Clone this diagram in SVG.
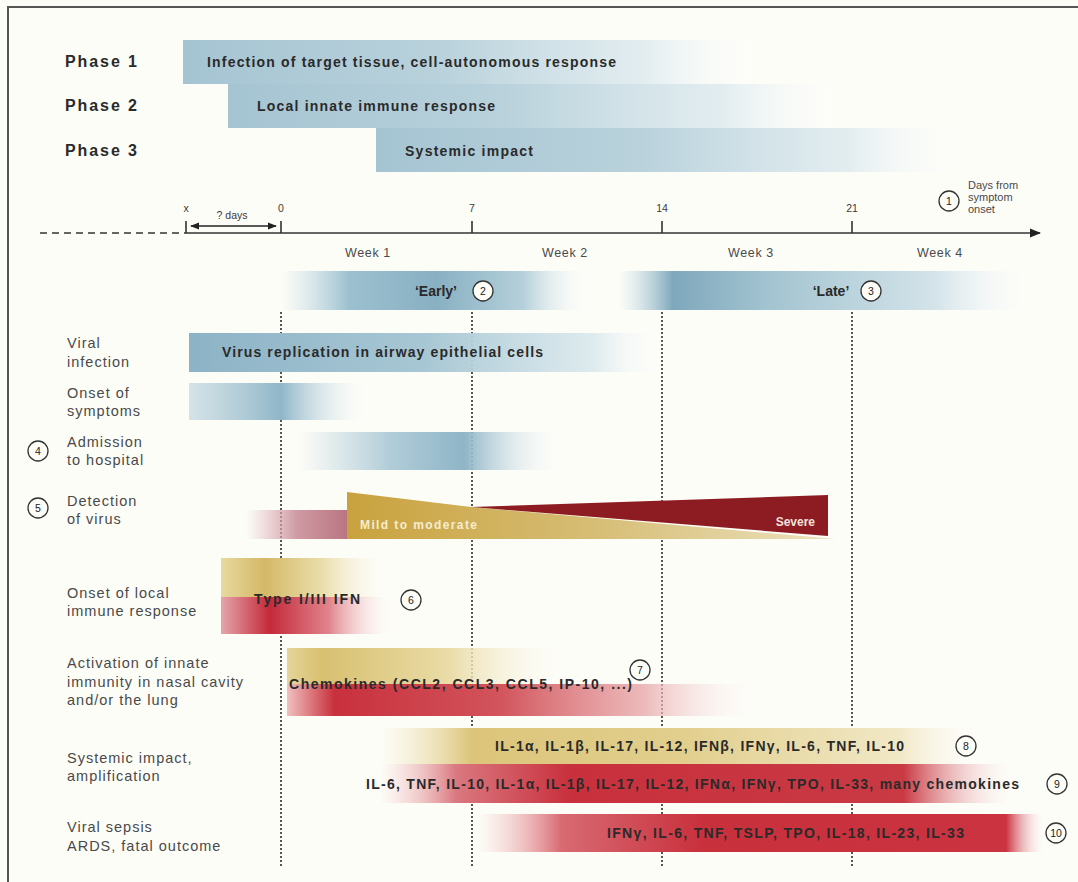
<svg xmlns="http://www.w3.org/2000/svg" width="1078" height="882" viewBox="0 0 1078 882">
<defs>
<style>
text{font-family:"Liberation Sans",Arial,sans-serif;}
.ph{font-size:16px;font-weight:bold;fill:#2a2a2a;}
.bt{font-size:14px;font-weight:bold;fill:#2a2a2a;}
.lb{font-size:14.5px;fill:#4a4a4a;letter-spacing:1px;}
.wk{font-size:12.5px;fill:#4a4a4a;letter-spacing:0.6px;}
.tk{font-size:10.5px;fill:#3a3a3a;}
.sm{font-size:11px;fill:#4a4a4a;}
.cn{font-size:10.5px;fill:#222;text-anchor:middle;}
.cc{fill:#fdfdf8;stroke:#333;stroke-width:1.3;}
.dot{stroke:#555;stroke-width:2;stroke-dasharray:2 2;fill:none;}
.axis{stroke:#333;stroke-width:1.6;fill:none;}
</style>
<linearGradient id="gPh"><stop offset="0" stop-color="#a5c4d2"/><stop offset="0.45" stop-color="#b9d2dc"/><stop offset="0.8" stop-color="#dce9ee" stop-opacity="0.8"/><stop offset="1" stop-color="#ffffff" stop-opacity="0"/></linearGradient>
<linearGradient id="gVir"><stop offset="0" stop-color="#8cb3c6"/><stop offset="0.5" stop-color="#a8c7d4"/><stop offset="0.85" stop-color="#d6e6ec" stop-opacity="0.8"/><stop offset="1" stop-color="#ffffff" stop-opacity="0"/></linearGradient>
<linearGradient id="gOns"><stop offset="0" stop-color="#b9d1dc" stop-opacity="0.6"/><stop offset="0.5" stop-color="#8fb6c8"/><stop offset="1" stop-color="#ffffff" stop-opacity="0"/></linearGradient>
<linearGradient id="gAdm"><stop offset="0" stop-color="#b8d0db" stop-opacity="0"/><stop offset="0.35" stop-color="#b0ccd8"/><stop offset="0.62" stop-color="#8fb5c7"/><stop offset="1" stop-color="#ffffff" stop-opacity="0"/></linearGradient>
<linearGradient id="gEarly"><stop offset="0" stop-color="#bcd4de" stop-opacity="0"/><stop offset="0.22" stop-color="#9cc0cf"/><stop offset="0.5" stop-color="#88b0c3"/><stop offset="0.78" stop-color="#b5d0da"/><stop offset="1" stop-color="#ffffff" stop-opacity="0"/></linearGradient>
<linearGradient id="gLate"><stop offset="0" stop-color="#bcd4de" stop-opacity="0"/><stop offset="0.13" stop-color="#7ea8bc"/><stop offset="0.35" stop-color="#a2c3d0"/><stop offset="0.75" stop-color="#d3e3e9"/><stop offset="1" stop-color="#ffffff" stop-opacity="0"/></linearGradient>
<linearGradient id="gMauve"><stop offset="0" stop-color="#d9a9b1" stop-opacity="0"/><stop offset="0.5" stop-color="#cf9aa3"/><stop offset="1" stop-color="#b97582"/></linearGradient>
<linearGradient id="gGold"><stop offset="0" stop-color="#c9a23e"/><stop offset="0.5" stop-color="#d6bd74"/><stop offset="1" stop-color="#ece2bf"/></linearGradient>
<linearGradient id="gIfnG"><stop offset="0" stop-color="#e8d9a0"/><stop offset="0.25" stop-color="#d4b866"/><stop offset="0.6" stop-color="#ece0b0"/><stop offset="1" stop-color="#ffffff" stop-opacity="0"/></linearGradient>
<linearGradient id="gIfnR"><stop offset="0" stop-color="#e4a6ab"/><stop offset="0.28" stop-color="#c42a3a"/><stop offset="0.62" stop-color="#e0848c"/><stop offset="1" stop-color="#ffffff" stop-opacity="0"/></linearGradient>
<linearGradient id="gChG"><stop offset="0" stop-color="#e6d59a"/><stop offset="0.12" stop-color="#d8c070"/><stop offset="0.55" stop-color="#e9dba5"/><stop offset="1" stop-color="#ffffff" stop-opacity="0"/></linearGradient>
<linearGradient id="gChR"><stop offset="0" stop-color="#f0c0c0"/><stop offset="0.1" stop-color="#c8303c"/><stop offset="0.45" stop-color="#d2545c"/><stop offset="0.75" stop-color="#e8a8aa" stop-opacity="0.8"/><stop offset="1" stop-color="#ffffff" stop-opacity="0"/></linearGradient>
<linearGradient id="gR8"><stop offset="0" stop-color="#efe3b8" stop-opacity="0"/><stop offset="0.15" stop-color="#dcc57a"/><stop offset="0.5" stop-color="#e2cf8e"/><stop offset="0.85" stop-color="#f1e8c6"/><stop offset="1" stop-color="#ffffff" stop-opacity="0"/></linearGradient>
<linearGradient id="gR9"><stop offset="0" stop-color="#f0c0c0" stop-opacity="0"/><stop offset="0.12" stop-color="#da7880"/><stop offset="0.3" stop-color="#c8303c"/><stop offset="0.82" stop-color="#c93a44"/><stop offset="1" stop-color="#ffffff" stop-opacity="0"/></linearGradient>
<linearGradient id="gR10"><stop offset="0" stop-color="#f0c0c0" stop-opacity="0"/><stop offset="0.15" stop-color="#d86a72"/><stop offset="0.4" stop-color="#c8303c"/><stop offset="0.93" stop-color="#cc3340"/><stop offset="1" stop-color="#ffffff" stop-opacity="0"/></linearGradient>
<marker id="ah" viewBox="0 0 10 10" refX="9" refY="5" markerWidth="7" markerHeight="7" orient="auto-start-reverse"><path d="M0,1 L10,5 L0,9 Z" fill="#222"/></marker>
</defs>
<rect x="0" y="0" width="1078" height="882" fill="#fdfdf8"/>
<path d="M8,882 V7 H1078" fill="none" stroke="#555" stroke-width="2"/>

<g id="connectors">
<line class="dot" x1="281" y1="312" x2="281" y2="866"/>
<line class="dot" x1="472" y1="312" x2="472" y2="866"/>
<line class="dot" x1="662" y1="312" x2="662" y2="866"/>
<line class="dot" x1="852" y1="312" x2="852" y2="866"/>
<line x1="40" y1="233" x2="186" y2="233" stroke="#333" stroke-width="1.6" stroke-dasharray="7 5"/>
<line class="axis" x1="186" y1="233" x2="1040" y2="233" marker-end="url(#ah)"/>
<path class="axis" d="M186,221V233 M281,221V233 M472,221V233 M662,221V233 M852,221V233"/>
<line x1="191" y1="226" x2="276" y2="226" stroke="#222" stroke-width="1.3" marker-start="url(#ah)" marker-end="url(#ah)"/>
</g>

<g id="axis-labels">
<text class="tk" x="186" y="212" text-anchor="middle">x</text>
<text class="tk" x="232" y="219" text-anchor="middle">? days</text>
<text class="tk" x="281" y="212" text-anchor="middle">0</text>
<text class="tk" x="472" y="212" text-anchor="middle">7</text>
<text class="tk" x="662" y="212" text-anchor="middle">14</text>
<text class="tk" x="852" y="212" text-anchor="middle">21</text>
<text class="wk" x="368" y="257" text-anchor="middle">Week 1</text>
<text class="wk" x="565" y="257" text-anchor="middle">Week 2</text>
<text class="wk" x="751" y="257" text-anchor="middle">Week 3</text>
<text class="wk" x="940" y="257" text-anchor="middle">Week 4</text>
</g>
<g id="n1">
<circle class="cc" cx="949" cy="201" r="10"/><text class="cn" x="949" y="205">1</text>
<text class="sm" x="968" y="189">Days from</text>
<text class="sm" x="968" y="201">symptom</text>
<text class="sm" x="968" y="213">onset</text>
</g>

<g id="phase1">
<text class="ph" x="65" y="67" textLength="72">Phase 1</text>
<rect x="183" y="40" width="580" height="44" fill="url(#gPh)"/>
<text class="bt" x="207" y="67" textLength="409">Infection of target tissue, cell-autonomous response</text>
</g>
<g id="phase2">
<text class="ph" x="65" y="111" textLength="72">Phase 2</text>
<rect x="228" y="84" width="620" height="44" fill="url(#gPh)"/>
<text class="bt" x="257" y="111" textLength="238">Local innate immune response</text>
</g>
<g id="phase3">
<text class="ph" x="65" y="156" textLength="72">Phase 3</text>
<rect x="376" y="128" width="592" height="44" fill="url(#gPh)"/>
<text class="bt" x="405" y="156" textLength="128">Systemic impact</text>
</g>

<g id="early">
<rect x="281" y="271" width="311" height="39" fill="url(#gEarly)"/>
<text class="bt" x="436" y="296" text-anchor="middle">‘Early’</text>
<circle class="cc" cx="483" cy="291" r="10"/><text class="cn" x="483" y="295">2</text>
</g>
<g id="late">
<rect x="618" y="271" width="422" height="39" fill="url(#gLate)"/>
<text class="bt" x="831" y="296" text-anchor="middle">‘Late’</text>
<circle class="cc" cx="871" cy="291" r="10"/><text class="cn" x="871" y="295">3</text>
</g>

<g id="viral-infection">
<text class="lb" x="67" y="348">Viral</text>
<text class="lb" x="67" y="367">infection</text>
<rect x="189" y="333" width="476" height="39" fill="url(#gVir)"/>
<text class="bt" x="222" y="357" textLength="321">Virus replication in airway epithelial cells</text>
</g>
<g id="onset-symptoms">
<text class="lb" x="67" y="398">Onset of</text>
<text class="lb" x="67" y="416">symptoms</text>
<rect x="189" y="383" width="184" height="37" fill="url(#gOns)"/>
</g>
<g id="admission">
<circle class="cc" cx="38" cy="451" r="10"/><text class="cn" x="38" y="455">4</text>
<text class="lb" x="67" y="447">Admission</text>
<text class="lb" x="67" y="465">to hospital</text>
<rect x="298" y="432" width="268" height="38" fill="url(#gAdm)"/>
</g>
<g id="detection">
<circle class="cc" cx="38" cy="508" r="10"/><text class="cn" x="38" y="512">5</text>
<text class="lb" x="67" y="506">Detection</text>
<text class="lb" x="67" y="524">of virus</text>
<rect x="246" y="510" width="102" height="29" fill="url(#gMauve)"/>
<polygon points="347,492 471,507 836,539 347,539" fill="url(#gGold)"/>
<polygon points="471,507 828,495 828,536" fill="#8c1c21"/>
<text x="360" y="529" font-size="12" font-weight="bold" fill="#f6ecd0" textLength="117">Mild to moderate</text>
<text x="815" y="526" font-size="12" font-weight="bold" fill="#f3e0dc" text-anchor="end">Severe</text>
</g>
<g id="onset-local">
<text class="lb" x="67" y="598">Onset of local</text>
<text class="lb" x="67" y="616">immune response</text>
<rect x="221" y="558" width="174" height="40" fill="url(#gIfnG)"/>
<rect x="221" y="597" width="174" height="37" fill="url(#gIfnR)"/>
<text class="bt" x="254" y="604" textLength="106">Type I/III IFN</text>
<circle class="cc" cx="411" cy="600" r="10"/><text class="cn" x="411" y="604">6</text>
</g>
<g id="activation">
<text class="lb" x="67" y="668">Activation of innate</text>
<text class="lb" x="67" y="687">immunity in nasal cavity</text>
<text class="lb" x="67" y="705">and/or the lung</text>
<rect x="287" y="648" width="290" height="37" fill="url(#gChG)"/>
<rect x="287" y="684" width="475" height="32" fill="url(#gChR)"/>
<text class="bt" x="289" y="689" textLength="343">Chemokines (CCL2, CCL3, CCL5, IP-10, ...)</text>
<circle class="cc" cx="640" cy="670" r="10"/><text class="cn" x="640" y="674">7</text>
</g>
<g id="systemic">
<text class="lb" x="67" y="763">Systemic impact,</text>
<text class="lb" x="67" y="781">amplification</text>
<rect x="379" y="728" width="613" height="36" fill="url(#gR8)"/>
<text class="bt" x="495" y="751" textLength="409">IL-1α, IL-1β, IL-17, IL-12, IFNβ, IFNγ, IL-6, TNF, IL-10</text>
<circle class="cc" cx="966" cy="746" r="10"/><text class="cn" x="966" y="750">8</text>
<rect x="379" y="764" width="640" height="39" fill="url(#gR9)"/>
<text class="bt" x="366" y="789" textLength="653">IL-6, TNF, IL-10, IL-1α, IL-1β, IL-17, IL-12, IFNα, IFNγ, TPO, IL-33, many chemokines</text>
<circle class="cc" cx="1057" cy="784" r="10"/><text class="cn" x="1057" y="788">9</text>
</g>
<g id="sepsis">
<text class="lb" x="67" y="832">Viral sepsis</text>
<text class="lb" x="67" y="851">ARDS, fatal outcome</text>
<rect x="476" y="814" width="570" height="38" fill="url(#gR10)"/>
<text class="bt" x="607" y="838" textLength="357">IFNγ, IL-6, TNF, TSLP, TPO, IL-18, IL-23, IL-33</text>
<circle class="cc" cx="1056" cy="833" r="10"/><text class="cn" x="1056" y="837">10</text>
</g>
</svg>
